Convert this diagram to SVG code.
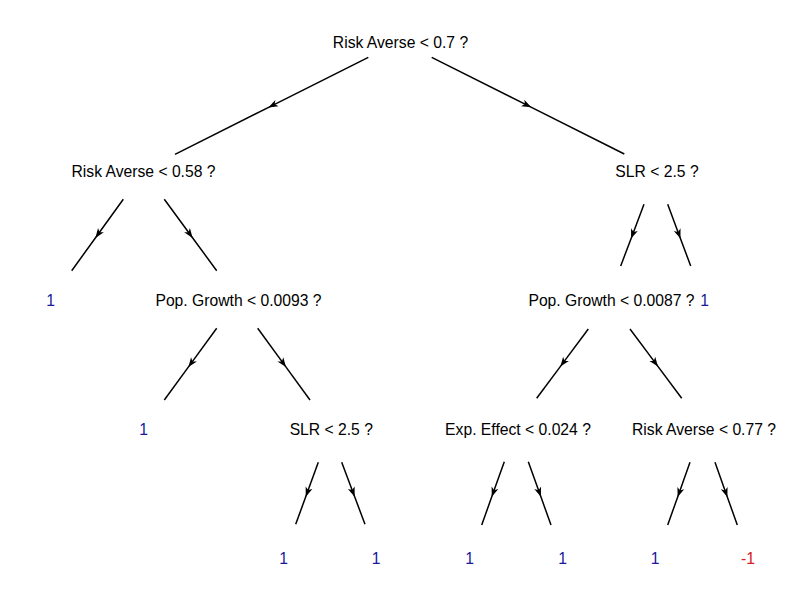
<svg xmlns="http://www.w3.org/2000/svg" width="800" height="600" viewBox="0 0 800 600">
  <defs>
    <marker id="arr" markerUnits="userSpaceOnUse" viewBox="-11 -5 15 10" markerWidth="15" markerHeight="10" refX="-3.6" refY="0" orient="auto" overflow="visible">
      <path d="M0,0 L-9.5,-3.6 L-7,0 L-9.5,3.6 Z" fill="#000"/>
    </marker>
  </defs>
  <style>
    .t { font-family: "Liberation Sans", Arial, Helvetica, sans-serif; font-size: 15.7px; fill: #000; text-anchor: middle; }
    .leaf { font-family: "Liberation Sans", Arial, Helvetica, sans-serif; font-size: 15.7px; text-anchor: middle; }
    .pos { fill: #1a1a9a; }
    .neg { fill: #d42020; }
    .e { fill: none; stroke: #000; stroke-width: 1.5; marker-mid: url(#arr); }
  </style>
  <rect width="800" height="600" fill="#fff"/>

  <g id="connectors">
    <path class="e" d="M368.3,57.3 L271.65,105.8 L175,154.3"/>
    <path class="e" d="M431.7,57.3 L528,105.65 L624.3,154"/>
    <path class="e" d="M123.3,199.3 L97.5,235 L71.7,270.7"/>
    <path class="e" d="M164.3,199.3 L190.5,235 L216.7,270.7"/>
    <path class="e" d="M644,204.3 L632.35,235.15 L620.7,266"/>
    <path class="e" d="M667.7,204.3 L679.2,235.15 L690.7,266"/>
    <path class="e" d="M216.7,328.3 L190.5,364.15 L164.3,400"/>
    <path class="e" d="M257.7,328.3 L283.85,364.15 L310,400"/>
    <path class="e" d="M588.3,329 L562.5,363.65 L536.7,398.3"/>
    <path class="e" d="M630,329 L655.85,363.65 L681.7,398.3"/>
    <path class="e" d="M318.3,462.3 L307,493.3 L295.7,524.3"/>
    <path class="e" d="M341.7,462.3 L353.35,493.3 L365,524.3"/>
    <path class="e" d="M504.3,461.7 L493,493.35 L481.7,525"/>
    <path class="e" d="M528.3,461.7 L539.65,493.35 L551,525"/>
    <path class="e" d="M690,462.3 L678.85,493.65 L667.7,525"/>
    <path class="e" d="M715,462.3 L726.15,493.65 L737.3,525"/>
  </g>

  <g id="n0"><text class="t" x="400.5" y="47.5">Risk Averse &lt; 0.7 ?</text></g>
  <g id="n1"><text class="t" x="143.5" y="176.5">Risk Averse &lt; 0.58 ?</text></g>
  <g id="n2"><text class="t" x="657" y="176.5">SLR &lt; 2.5 ?</text></g>
  <g id="l1"><text class="leaf pos" x="50.5" y="305.5">1</text></g>
  <g id="n3"><text class="t" x="238.5" y="305.5">Pop. Growth &lt; 0.0093 ?</text></g>
  <g id="n4"><text class="t" x="611.5" y="305.5">Pop. Growth &lt; 0.0087 ?</text></g>
  <g id="l2"><text class="leaf pos" x="704.5" y="305.5">1</text></g>
  <g id="l3"><text class="leaf pos" x="143.5" y="434.5">1</text></g>
  <g id="n5"><text class="t" x="331.3" y="434.5">SLR &lt; 2.5 ?</text></g>
  <g id="n6"><text class="t" x="518" y="434.5">Exp. Effect &lt; 0.024 ?</text></g>
  <g id="n7"><text class="t" x="704" y="434.5">Risk Averse &lt; 0.77 ?</text></g>
  <g id="l4"><text class="leaf pos" x="283.5" y="563.5">1</text></g>
  <g id="l5"><text class="leaf pos" x="376.2" y="563.5">1</text></g>
  <g id="l6"><text class="leaf pos" x="469.5" y="563.5">1</text></g>
  <g id="l7"><text class="leaf pos" x="562.5" y="563.5">1</text></g>
  <g id="l8"><text class="leaf pos" x="655.2" y="563.5">1</text></g>
  <g id="l9"><text class="leaf neg" x="748" y="563.5">-1</text></g>
</svg>
